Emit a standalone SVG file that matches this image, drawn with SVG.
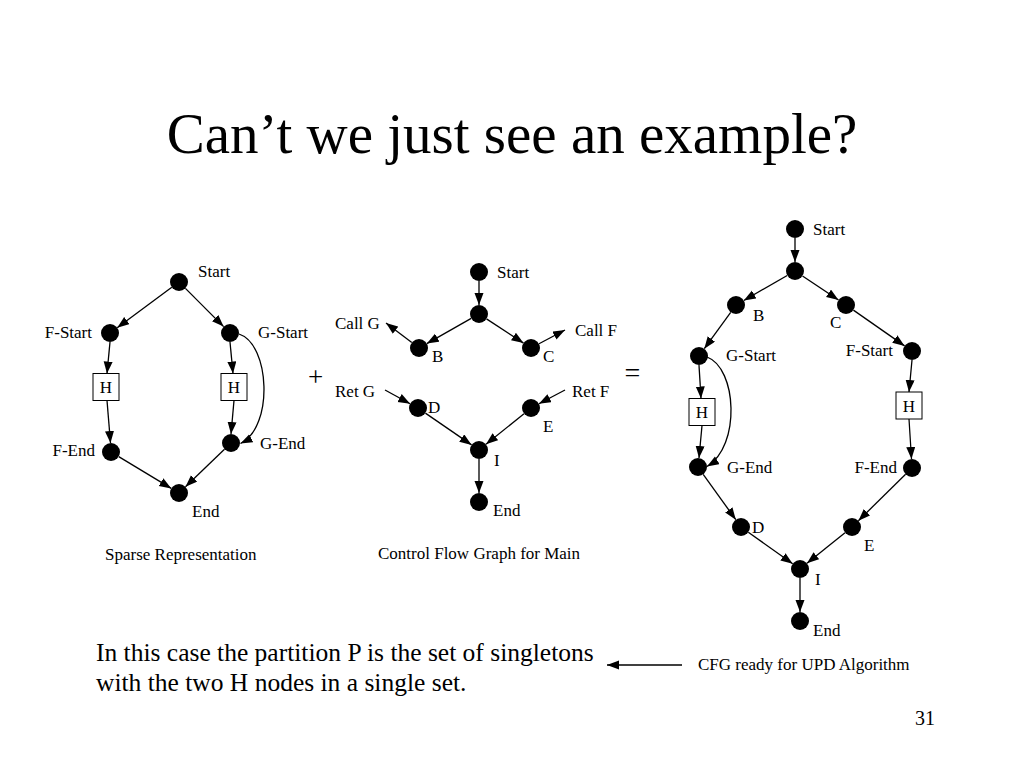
<svg xmlns="http://www.w3.org/2000/svg" width="1024" height="768" viewBox="0 0 1024 768">
<style>
text{font-family:"Liberation Serif","Times New Roman",serif;fill:#000}
.t{font-size:17px}
.n{fill:#000}
.b{fill:#fff;stroke:#000;stroke-width:1}
.e{stroke:#000;stroke-width:1.3;fill:none;marker-end:url(#ah)}
</style>
<defs>
<marker id="ah" markerUnits="userSpaceOnUse" markerWidth="13" markerHeight="10" refX="12" refY="4.5" orient="auto">
<path d="M0,0 L12,4.5 L0,9 Z" fill="#000"/>
</marker>
</defs>
<rect width="1024" height="768" fill="#fff"/>
<text x="512" y="153" font-size="57" text-anchor="middle">Can’t we just see an example?</text>

<g id="connectors">
<!-- left -->
<line class="e" x1="171.8" y1="287.3" x2="117.2" y2="327.7"/>
<line class="e" x1="185.4" y1="288.4" x2="223.6" y2="326.6"/>
<line class="e" x1="110" y1="342" x2="107" y2="373.5"/>
<line class="e" x1="107" y1="400.5" x2="110.5" y2="443"/>
<line class="e" x1="230" y1="342" x2="233" y2="373.5"/>
<line class="e" x1="234" y1="400.5" x2="231" y2="434"/>
<line class="e" x1="118.7" y1="456.6" x2="171.3" y2="488.4"/>
<line class="e" x1="224.5" y1="449.2" x2="185.5" y2="486.8"/>
<path class="e" d="M239,334 C270,344 274,427 240.5,443.5"/>
<!-- middle -->
<line class="e" x1="479" y1="281" x2="479" y2="305"/>
<line class="e" x1="471.2" y1="318.4" x2="426.8" y2="343.6"/>
<line class="e" x1="486.5" y1="318.9" x2="523.5" y2="343.1"/>
<line class="e" x1="411.8" y1="342.6" x2="386" y2="323"/>
<line class="e" x1="539" y1="343.8" x2="565" y2="330"/>
<line class="e" x1="385" y1="390" x2="410.1" y2="403.7"/>
<line class="e" x1="565" y1="390" x2="538.9" y2="403.8"/>
<line class="e" x1="425.4" y1="413.1" x2="471.6" y2="444.9"/>
<line class="e" x1="524" y1="413.7" x2="486" y2="444.3"/>
<line class="e" x1="479" y1="459" x2="479" y2="493"/>
<!-- right -->
<line class="e" x1="795" y1="238" x2="795" y2="262"/>
<line class="e" x1="787.2" y1="275.5" x2="743.8" y2="300.5"/>
<line class="e" x1="802.5" y1="276" x2="838.5" y2="300"/>
<line class="e" x1="730.7" y1="312.3" x2="704.3" y2="348.7"/>
<line class="e" x1="853.4" y1="310.1" x2="904.6" y2="345.9"/>
<line class="e" x1="699" y1="365" x2="701" y2="398.5"/>
<line class="e" x1="702" y1="425.5" x2="699" y2="458"/>
<line class="e" x1="912" y1="360" x2="909" y2="392"/>
<line class="e" x1="909" y1="419" x2="911.5" y2="459"/>
<line class="e" x1="703.2" y1="474.3" x2="735.8" y2="519.7"/>
<line class="e" x1="905.6" y1="474.3" x2="858.4" y2="520.7"/>
<line class="e" x1="748.3" y1="532.2" x2="792.7" y2="563.8"/>
<line class="e" x1="845" y1="532.7" x2="807" y2="563.3"/>
<line class="e" x1="800" y1="578" x2="800" y2="612"/>
<path class="e" d="M707,357 C737,368 741,446 707,466.5"/>
<!-- bottom -->
<line class="e" x1="682" y1="665" x2="607" y2="665"/>
</g>

<!-- left graph -->
<g id="L-start"><circle class="n" cx="179" cy="282" r="9"/><text class="t" x="198" y="277">Start</text></g>
<g id="L-fstart"><circle class="n" cx="110" cy="333" r="9"/><text class="t" x="92" y="338" text-anchor="end">F-Start</text></g>
<g id="L-gstart"><circle class="n" cx="230" cy="333" r="9"/><text class="t" x="258" y="338">G-Start</text></g>
<g id="L-h1"><rect class="b" x="93" y="373.5" width="26" height="27"/><text class="t" x="106" y="393" text-anchor="middle">H</text></g>
<g id="L-h2"><rect class="b" x="221" y="373.5" width="26" height="27"/><text class="t" x="234" y="393" text-anchor="middle">H</text></g>
<g id="L-fend"><circle class="n" cx="111" cy="452" r="9"/><text class="t" x="95" y="456" text-anchor="end">F-End</text></g>
<g id="L-gend"><circle class="n" cx="231" cy="443" r="9"/><text class="t" x="260" y="449">G-End</text></g>
<g id="L-end"><circle class="n" cx="179" cy="493" r="9"/><text class="t" x="192" y="517">End</text></g>
<text class="t" x="105" y="560">Sparse Representation</text>

<text x="315.5" y="386" font-size="27" text-anchor="middle">+</text>
<text x="632.5" y="382" font-size="28" text-anchor="middle">=</text>

<!-- middle graph -->
<g id="M-start"><circle class="n" cx="479" cy="272" r="9"/><text class="t" x="497" y="278">Start</text></g>
<g id="M-n2"><circle class="n" cx="479" cy="314" r="9"/></g>
<g id="M-b"><circle class="n" cx="419" cy="348" r="9"/><text class="t" x="432" y="362">B</text></g>
<g id="M-c"><circle class="n" cx="531" cy="348" r="9"/><text class="t" x="543" y="362">C</text></g>
<text class="t" x="335" y="329">Call G</text>
<text class="t" x="575" y="336">Call F</text>
<text class="t" x="335" y="397">Ret G</text>
<text class="t" x="572" y="397">Ret F</text>
<g id="M-d"><circle class="n" cx="418" cy="408" r="9"/><text class="t" x="428" y="413">D</text></g>
<g id="M-e"><circle class="n" cx="531" cy="408" r="9"/><text class="t" x="543" y="432">E</text></g>
<g id="M-i"><circle class="n" cx="479" cy="450" r="9"/><text class="t" x="494" y="466">I</text></g>
<g id="M-end"><circle class="n" cx="479" cy="502" r="9"/><text class="t" x="493" y="516">End</text></g>
<text class="t" x="378" y="559">Control Flow Graph for Main</text>

<!-- right graph -->
<g id="R-start"><circle class="n" cx="795" cy="229" r="9"/><text class="t" x="813" y="235">Start</text></g>
<g id="R-n2"><circle class="n" cx="795" cy="271" r="9"/></g>
<g id="R-b"><circle class="n" cx="736" cy="305" r="9"/><text class="t" x="753" y="321">B</text></g>
<g id="R-c"><circle class="n" cx="846" cy="305" r="9"/><text class="t" x="830" y="328">C</text></g>
<g id="R-gstart"><circle class="n" cx="699" cy="356" r="9"/><text class="t" x="726" y="361">G-Start</text></g>
<g id="R-fstart"><circle class="n" cx="912" cy="351" r="9"/><text class="t" x="893" y="356" text-anchor="end">F-Start</text></g>
<g id="R-h1"><rect class="b" x="689" y="398.5" width="26" height="27"/><text class="t" x="702" y="418" text-anchor="middle">H</text></g>
<g id="R-h2"><rect class="b" x="896" y="392" width="26" height="27"/><text class="t" x="909" y="411.5" text-anchor="middle">H</text></g>
<g id="R-gend"><circle class="n" cx="698" cy="467" r="9"/><text class="t" x="727" y="473">G-End</text></g>
<g id="R-fend"><circle class="n" cx="912" cy="468" r="9"/><text class="t" x="897" y="473" text-anchor="end">F-End</text></g>
<g id="R-d"><circle class="n" cx="741" cy="527" r="9"/><text class="t" x="752" y="533">D</text></g>
<g id="R-e"><circle class="n" cx="852" cy="527" r="9"/><text class="t" x="864" y="551">E</text></g>
<g id="R-i"><circle class="n" cx="800" cy="569" r="9"/><text class="t" x="815" y="585">I</text></g>
<g id="R-end"><circle class="n" cx="800" cy="621" r="9"/><text class="t" x="813" y="636">End</text></g>
<text class="t" x="698" y="670">CFG ready for UPD Algorithm</text>

<text x="96" y="661" font-size="25.5">In this case the partition P is the set of singletons</text>
<text x="96" y="691" font-size="25.5">with the two H nodes in a single set.</text>
<text x="935" y="725" font-size="20" text-anchor="end">31</text>
</svg>
